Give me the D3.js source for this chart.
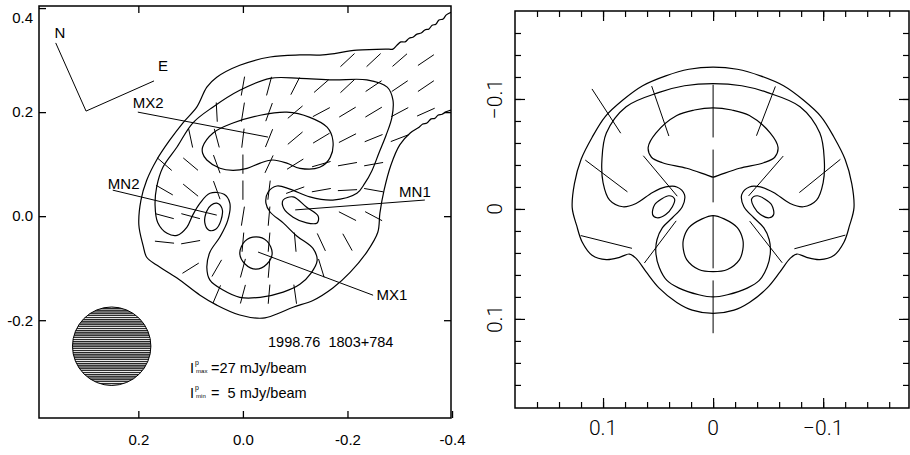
<!DOCTYPE html>
<html>
<head>
<meta charset="utf-8">
<script src="https://cdn.jsdelivr.net/npm/d3@7"></script>
<style>
  body { margin: 0; background: #fff; }
  text { white-space: pre; }
</style>
</head>
<body>
<div id="chart"></div>
<script>
// ---------- left panel: observed map (relative RA / Dec, arcsec) ----------
const leftXTicks = [0.2, 0.0, -0.2, -0.4]
const leftYTicks = [0.4, 0.2, 0.0, -0.2]

// lowest contour, open at the right edge of the map
const contourOuter = [
  [-0.398,0.392],[-0.389,0.387],[-0.383,0.379],[-0.375,0.377],[-0.369,0.369],[-0.362,0.367],
  [-0.356,0.360],[-0.348,0.358],[-0.341,0.352],[-0.333,0.350],[-0.325,0.344],[-0.318,0.342],
  [-0.310,0.335],[-0.302,0.335],[-0.295,0.329],[-0.287,0.321],[-0.279,0.321],[-0.218,0.319],
  [-0.153,0.310],[-0.109,0.310],[-0.052,0.306],[0.006,0.290],[0.050,0.267],[0.069,0.248],
  [0.088,0.210],[0.115,0.179],[0.140,0.146],[0.165,0.108],[0.184,0.069],[0.195,0.031],
  [0.199,-0.017],[0.191,-0.056],[0.184,-0.079],[0.165,-0.094],[0.126,-0.119],[0.082,-0.152],
  [0.050,-0.171],[0.006,-0.190],[-0.038,-0.196],[-0.065,-0.188],[-0.096,-0.175],[-0.134,-0.162],
  [-0.172,-0.138],[-0.205,-0.108],[-0.237,-0.069],[-0.258,-0.031],[-0.262,0.006],[-0.270,0.050],
  [-0.283,0.098],[-0.300,0.137],[-0.320,0.160],[-0.337,0.171],[-0.344,0.177],[-0.352,0.179],
  [-0.360,0.187],[-0.367,0.188],[-0.373,0.194],[-0.381,0.196],[-0.387,0.200],[-0.398,0.204]
]
const contourMiddle = [
  [0.057,0.210],[0.006,0.242],[-0.052,0.265],[-0.109,0.265],[-0.172,0.262],[-0.237,0.262],
  [-0.276,0.248],[-0.287,0.223],[-0.285,0.190],[-0.274,0.156],[-0.260,0.121],[-0.247,0.088],
  [-0.233,0.063],[-0.218,0.044],[-0.172,0.031],[-0.128,0.037],[-0.090,0.052],[-0.065,0.058],
  [-0.048,0.046],[-0.044,0.025],[-0.052,0.008],[-0.077,-0.013],[-0.103,-0.038],[-0.134,-0.062],
  [-0.142,-0.085],[-0.130,-0.110],[-0.109,-0.131],[-0.077,-0.146],[-0.033,-0.156],[0.006,-0.156],
  [0.038,-0.142],[0.063,-0.123],[0.069,-0.098],[0.063,-0.069],[0.044,-0.040],[0.029,-0.008],
  [0.025,0.025],[0.036,0.042],[0.063,0.044],[0.082,0.025],[0.096,0.002],[0.107,-0.021],
  [0.126,-0.037],[0.145,-0.033],[0.163,-0.012],[0.168,0.021],[0.165,0.056],[0.153,0.094],
  [0.126,0.133],[0.096,0.179]
]
const contourMX2 = [
  [0.077,0.133],[0.057,0.160],[0.019,0.179],[-0.033,0.194],[-0.084,0.200],[-0.128,0.190],
  [-0.161,0.171],[-0.172,0.146],[-0.167,0.113],[-0.147,0.094],[-0.109,0.092],[-0.084,0.102],
  [-0.057,0.108],[-0.033,0.102],[-0.008,0.092],[0.019,0.088],[0.044,0.092],[0.069,0.108],
  [0.077,0.121]
]
const contourMN2 = [
  [0.050,0.025],[0.040,0.015],[0.042,-0.008],[0.052,-0.025],[0.065,-0.027],[0.073,-0.012],
  [0.069,0.010],[0.061,0.021]
]
const contourMN1 = [
  [-0.077,0.031],[-0.096,0.037],[-0.122,0.017],[-0.144,0.000],[-0.142,-0.013],[-0.122,-0.013],
  [-0.096,-0.002],[-0.078,0.015]
]
const contourMX1 = [
  [-0.025,-0.040],[-0.046,-0.048],[-0.056,-0.071],[-0.046,-0.092],[-0.025,-0.102],
  [-0.004,-0.092],[0.006,-0.071],[-0.004,-0.048]
]
const leftClosed = [contourMiddle, contourMX2, contourMN2, contourMN1, contourMX1]

// polarisation vectors: [x, y, tilt on the page in degrees]
const leftVectors = [
  [-0.20,0.30,47],[-0.25,0.30,47],[-0.30,0.30,49],[-0.35,0.30,56],
  [0.00,0.25,10],[-0.05,0.25,15],[-0.10,0.25,27],[-0.15,0.25,49],[-0.20,0.25,47],[-0.25,0.25,56],[-0.30,0.25,56],[-0.35,0.25,56],
  [0.05,0.20,-3],[0.00,0.20,9],[-0.05,0.20,20],[-0.10,0.20,50],[-0.15,0.20,62],[-0.20,0.20,59],[-0.25,0.20,59],[-0.30,0.20,62],[-0.35,0.20,66],
  [0.10,0.15,-12],[0.05,0.15,-15],[0.00,0.15,7],[-0.05,0.15,22],[-0.10,0.15,50],[-0.15,0.15,59],[-0.20,0.15,63],[-0.25,0.15,68],[-0.30,0.15,69],
  [0.15,0.10,-49],[0.10,0.10,-50],[0.05,0.10,-20],[0.00,0.10,0],[-0.05,0.10,25],[-0.10,0.10,58],[-0.15,0.10,74],[-0.20,0.10,80],[-0.25,0.10,80],
  [0.15,0.05,-60],[0.10,0.05,-51],[0.05,0.05,-20],[0.00,0.05,0],[-0.05,0.05,7],[-0.10,0.05,70],[-0.15,0.05,80],[-0.20,0.05,87],[-0.25,0.05,-80],
  [0.15,0.00,-75],[0.10,0.00,-75],[0.00,0.00,9],[-0.05,0.00,5],[-0.20,0.00,-63],[-0.25,0.00,-62],
  [0.15,-0.05,-84],[0.10,-0.05,80],[0.00,-0.05,5],[-0.05,-0.05,5],[-0.10,-0.05,-5],[-0.15,-0.05,-25],[-0.20,-0.05,-29],
  [0.10,-0.10,58],[0.05,-0.10,30],[0.00,-0.10,15],[-0.05,-0.10,5],[-0.15,-0.10,-17],
  [0.05,-0.15,23],[0.00,-0.15,15],[-0.05,-0.15,5],[-0.10,-0.15,-8]
]
const leftVectorLength = 0.037

const featureLabels = [
  ["MX2", 0.181, 0.219], ["MN2", 0.228, 0.063], ["MN1", -0.329, 0.048],
  ["MX1", -0.285, -0.150], ["N", 0.350, 0.352], ["E", 0.153, 0.290]
]
const pointerLines = [
  [[0.201,0.200],[-0.048,0.152]],
  [[0.249,0.050],[0.050,0.002]],
  [[-0.348,0.031],[-0.100,0.012]],
  [[-0.249,-0.152],[-0.029,-0.069]],
  [[0.358,0.333],[0.300,0.202],[0.170,0.260]]
]
const beam = [0.251, -0.250, 0.075]   // centre x, centre y, radius
const epochText = ["1998.76  1803+784", -0.048, -0.252]
const levelTexts = [
  ["max", "=27 mJy/beam", 0.101, -0.302],
  ["min", "=  5 mJy/beam", 0.101, -0.350]
]

// ---------- right panel: model ----------
const rightMajorTicks = [0.1, 0, -0.1]
const rightMinorTicks = [-0.16,-0.14,-0.12,-0.10,-0.08,-0.06,-0.04,-0.02,0,0.02,0.04,0.06,0.08,0.10,0.12,0.14,0.16]

const modelOuter = [
  [0,0.095],[0.019,0.092],[0.033,0.085],[0.049,0.072],[0.061,0.057],[0.070,0.045],[0.076,0.041],
  [0.085,0.044],[0.097,0.046],[0.110,0.042],[0.119,0.030],[0.124,0.015],[0.128,-0.001],
  [0.126,-0.023],[0.120,-0.045],[0.110,-0.065],[0.098,-0.084],[0.082,-0.099],[0.064,-0.112],
  [0.043,-0.121],[0.022,-0.127],[0,-0.129],[-0.022,-0.127],[-0.043,-0.121],[-0.064,-0.112],
  [-0.082,-0.099],[-0.098,-0.084],[-0.110,-0.065],[-0.120,-0.045],[-0.126,-0.023],[-0.128,-0.001],
  [-0.124,0.015],[-0.119,0.030],[-0.110,0.042],[-0.097,0.046],[-0.085,0.044],[-0.076,0.041],
  [-0.070,0.045],[-0.061,0.057],[-0.049,0.072],[-0.033,0.085],[-0.019,0.092]
]
const modelSecond = [
  [0,-0.114],[0.026,-0.112],[0.049,-0.106],[0.079,-0.093],[0.097,-0.069],[0.101,-0.045],
  [0.100,-0.024],[0.094,-0.008],[0.082,-0.002],[0.070,-0.005],[0.055,-0.015],[0.043,-0.020],
  [0.033,-0.020],[0.026,-0.013],[0.028,-0.002],[0.037,0.008],[0.046,0.017],[0.051,0.028],
  [0.052,0.040],[0.049,0.053],[0.042,0.065],[0.031,0.072],[0.013,0.078],[0,0.080],
  [-0.013,0.078],[-0.031,0.072],[-0.042,0.065],[-0.049,0.053],[-0.052,0.040],[-0.051,0.028],
  [-0.046,0.017],[-0.037,0.008],[-0.028,-0.002],[-0.026,-0.013],[-0.033,-0.020],[-0.043,-0.020],
  [-0.055,-0.015],[-0.070,-0.005],[-0.082,-0.002],[-0.094,-0.008],[-0.100,-0.024],[-0.101,-0.045],
  [-0.097,-0.069],[-0.079,-0.093],[-0.049,-0.106],[-0.026,-0.112]
]
const modelTop = [
  [0,-0.092],[0.017,-0.090],[0.033,-0.085],[0.052,-0.069],[0.059,-0.056],[0.056,-0.047],
  [0.046,-0.042],[0.024,-0.037],[0.006,-0.031],[0,-0.029],[-0.006,-0.031],[-0.024,-0.037],
  [-0.046,-0.042],[-0.056,-0.047],[-0.059,-0.056],[-0.052,-0.069],[-0.033,-0.085],[-0.017,-0.090]
]
const modelEyeLeft = [
  [0.055,0.005],[0.053,-0.004],[0.047,-0.009],[0.040,-0.012],[0.035,-0.009],[0.037,-0.002],
  [0.043,0.005],[0.051,0.008]
]
const modelEyeRight = [
  [-0.055,0.005],[-0.053,-0.004],[-0.047,-0.009],[-0.040,-0.012],[-0.035,-0.009],[-0.037,-0.002],
  [-0.043,0.005],[-0.051,0.008]
]
const modelCore = [
  [0,0.006],[0.010,0.009],[0.022,0.017],[0.027,0.028],[0.027,0.037],[0.024,0.046],[0.013,0.055],
  [0,0.057],[-0.013,0.055],[-0.024,0.046],[-0.027,0.037],[-0.027,0.028],[-0.022,0.017],[-0.010,0.009]
]
const rightContours = [modelOuter, modelSecond, modelTop, modelEyeLeft, modelEyeRight, modelCore]

const rightVectors = [
  [0.097,-0.089,-33],[0.048,-0.089,-19],[0,-0.089,0],[-0.048,-0.089,21],
  [0.097,-0.030,-53],[0.048,-0.030,-40],[0,-0.030,0],[-0.048,-0.030,41],[-0.097,-0.030,51],
  [0.097,0.030,-76],[0.048,0.030,37],[0,0.030,0],[-0.048,0.030,-38],[-0.097,0.030,75],
  [0,0.089,0]
]
const rightVectorLength = 0.048

// ---------- drawing ----------
const svg = d3.select("#chart").append("svg")
              .attr("width", 910)
              .attr("height", 455)
              .style("display", "block")

const leftFont = "'Liberation Sans', Arial, Helvetica, sans-serif"
const rightFont = "Roboto, 'Open Sans', sans-serif"

function drawVectors(g, xs, ys, data, len) {
    const lpx = Math.abs(ys(len) - ys(0))
    g.append("g")
     .selectAll("line")
     .data(data)
     .join("line")
     .attr("x1", d => xs(d[0]) - Math.sin(d[2] * Math.PI / 180) * lpx / 2)
     .attr("y1", d => ys(d[1]) + Math.cos(d[2] * Math.PI / 180) * lpx / 2)
     .attr("x2", d => xs(d[0]) + Math.sin(d[2] * Math.PI / 180) * lpx / 2)
     .attr("y2", d => ys(d[1]) - Math.cos(d[2] * Math.PI / 180) * lpx / 2)
     .attr("stroke", "#000")
     .attr("stroke-width", 1)
}

// ----- left panel -----
const lx = d3.scaleLinear().domain([0.39, -0.398]).range([39, 451])
const ly = d3.scaleLinear().domain([0.404, -0.388]).range([6, 418])

svg.append("defs").append("clipPath")
   .attr("id", "leftClip")
   .append("rect")
   .attr("x", 39).attr("y", 6).attr("width", 412).attr("height", 412)

const hatch = svg.select("defs").append("pattern")
                 .attr("id", "hatch")
                 .attr("patternUnits", "userSpaceOnUse")
                 .attr("width", 8).attr("height", 2.2)
hatch.append("rect").attr("width", 8).attr("height", 2.2).attr("fill", "#fff")
hatch.append("rect").attr("width", 8).attr("height", 1.4).attr("fill", "#222")

const left = svg.append("g")
const leftPlot = left.append("g").attr("clip-path", "url(#leftClip)")

const lineL = d3.line().x(d => lx(d[0])).y(d => ly(d[1]))

leftPlot.append("path")
        .datum(contourOuter)
        .attr("d", lineL.curve(d3.curveCatmullRom.alpha(0.5)))
        .attr("fill", "none")
        .attr("stroke", "#000")
        .attr("stroke-width", 1.2)

leftPlot.selectAll(".cl")
        .data(leftClosed)
        .join("path")
        .attr("class", "cl")
        .attr("d", d => d3.line().x(p => lx(p[0])).y(p => ly(p[1]))
                           .curve(d3.curveCatmullRomClosed.alpha(0.5))(d))
        .attr("fill", "none")
        .attr("stroke", "#000")
        .attr("stroke-width", 1.2)

drawVectors(leftPlot, lx, ly, leftVectors, leftVectorLength)

leftPlot.selectAll(".pointer")
        .data(pointerLines)
        .join("path")
        .attr("class", "pointer")
        .attr("d", d => d3.line().x(p => lx(p[0])).y(p => ly(p[1]))(d))
        .attr("fill", "none")
        .attr("stroke", "#000")
        .attr("stroke-width", 1)

leftPlot.selectAll(".flabel")
        .data(featureLabels)
        .join("text")
        .attr("class", "flabel")
        .attr("x", d => lx(d[1]))
        .attr("y", d => ly(d[2]))
        .attr("dy", "0.36em")
        .attr("text-anchor", "middle")
        .attr("font-family", leftFont)
        .attr("font-size", "15px")
        .text(d => d[0])

leftPlot.append("circle")
        .attr("cx", lx(beam[0]))
        .attr("cy", ly(beam[1]))
        .attr("r", Math.abs(lx(beam[2]) - lx(0)))
        .attr("fill", "url(#hatch)")
        .attr("stroke", "#000")
        .attr("stroke-width", 1)

leftPlot.append("text")
        .attr("x", lx(epochText[1]))
        .attr("y", ly(epochText[2]))
        .attr("font-family", leftFont)
        .attr("font-size", "14.5px")
        .text(epochText[0])

levelTexts.forEach(d => {
    const x0 = lx(d[2])
    const t = leftPlot.append("text")
                      .attr("x", x0)
                      .attr("y", ly(d[3]))
                      .attr("font-family", leftFont)
                      .attr("font-size", "14.5px")
    t.append("tspan").text("I")
    t.append("tspan").attr("x", x0 + 5).attr("dy", -8).attr("font-size", "7px").text("p")
    t.append("tspan").attr("x", x0 + 6).attr("dy", 8).attr("font-size", "6px").text(d[0])
    t.append("tspan").attr("x", x0 + 21).attr("dy", 0).text(d[1])
})

// left axes: ticks point inwards
const lTick = 7
left.append("g")
    .attr("transform", "translate(0, 418)")
    .call(d3.axisBottom(lx).tickValues(leftXTicks).tickSizeInner(-lTick).tickSizeOuter(0)
            .tickPadding(16).tickFormat(d => d.toFixed(1)))
left.append("g")
    .attr("transform", "translate(0, 6)")
    .call(d3.axisTop(lx).tickValues(leftXTicks.slice(0, 3)).tickSizeInner(-lTick).tickSizeOuter(0)
            .tickFormat(""))
left.append("g")
    .attr("transform", "translate(39, 0)")
    .call(d3.axisLeft(ly).tickValues(leftYTicks).tickSizeInner(-lTick).tickSizeOuter(0)
            .tickPadding(6).tickFormat(d => d.toFixed(1)))
left.append("g")
    .attr("transform", "translate(451, 0)")
    .call(d3.axisRight(ly).tickValues(leftYTicks.slice(1)).tickSizeInner(-lTick).tickSizeOuter(0)
            .tickFormat(""))
left.selectAll(".domain").remove()
left.selectAll(".tick line").attr("stroke", "#000").attr("stroke-width", 1.3)
left.selectAll(".tick text")
    .attr("font-family", leftFont)
    .attr("font-size", "15px")
    .attr("fill", "#000")
// the top label sits a little below its tick, as in the original
left.selectAll(".tick text").filter(d => d === 0.4 && leftYTicks.includes(d)).attr("dy", "0.95em")

left.append("rect")
    .attr("x", 39).attr("y", 6).attr("width", 412).attr("height", 412)
    .attr("fill", "none")
    .attr("stroke", "#000")
    .attr("stroke-width", 1.5)

// ----- right panel -----
const rx = d3.scaleLinear().domain([0.18, -0.178]).range([515, 909])
const ry = d3.scaleLinear().domain([-0.18, 0.181]).range([11, 408])
const right = svg.append("g")

right.selectAll(".mc")
     .data(rightContours)
     .join("path")
     .attr("class", "mc")
     .attr("d", d => d3.line().x(p => rx(p[0])).y(p => ry(p[1]))
                        .curve(d3.curveCatmullRomClosed.alpha(0.5))(d))
     .attr("fill", "none")
     .attr("stroke", "#000")
     .attr("stroke-width", 1.2)

drawVectors(right, rx, ry, rightVectors, rightVectorLength)

const rFmt = d => d === 0 ? "0" : (d < 0 ? "\u2212" : "") + Math.abs(d).toFixed(1)
const minorLen = 6, majorLen = 10
const axesR = [
    [d3.axisBottom, rx, "translate(0, 408)"],
    [d3.axisTop, rx, "translate(0, 11)"],
    [d3.axisLeft, ry, "translate(515, 0)"],
    [d3.axisRight, ry, "translate(909, 0)"]
]
axesR.forEach(a => {
    right.append("g").attr("transform", a[2])
         .call(a[0](a[1]).tickValues(rightMinorTicks).tickSizeInner(-minorLen).tickSizeOuter(0).tickFormat(""))
    right.append("g").attr("transform", a[2])
         .call(a[0](a[1]).tickValues(rightMajorTicks).tickSizeInner(-majorLen).tickSizeOuter(0).tickFormat(""))
})
right.selectAll(".domain").remove()
right.selectAll(".tick line").attr("stroke", "#000").attr("stroke-width", 1.2)

right.selectAll(".xlab")
     .data(rightMajorTicks)
     .join("text")
     .attr("class", "xlab")
     .attr("x", d => rx(d))
     .attr("y", 435)
     .attr("text-anchor", "middle")
     .attr("font-family", rightFont)
     .attr("font-weight", 300)
     .attr("font-size", "21px")
     .text(rFmt)

right.selectAll(".ylab")
     .data(rightMajorTicks)
     .join("text")
     .attr("class", "ylab")
     .attr("transform", d => `translate(502, ${ry(d)}) rotate(-90)`)
     .attr("text-anchor", "middle")
     .attr("font-family", rightFont)
     .attr("font-weight", 300)
     .attr("font-size", "21px")
     .text(rFmt)

right.append("rect")
     .attr("x", 515).attr("y", 11).attr("width", 394).attr("height", 397)
     .attr("fill", "none")
     .attr("stroke", "#000")
     .attr("stroke-width", 1.5)
</script>
</body>
</html>
